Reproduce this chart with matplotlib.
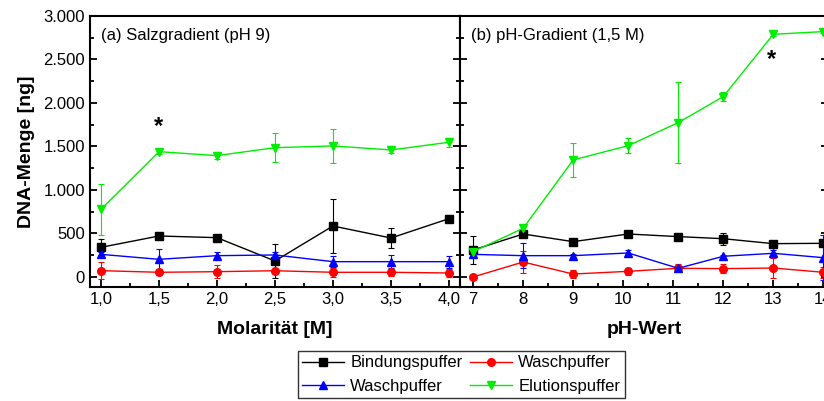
"""DNA-Menge in Bindungs-, Wasch- und Elutionspuffer für Salz- und pH-Gradient."""

import matplotlib.pyplot as plt
from matplotlib.lines import Line2D
from matplotlib.ticker import FuncFormatter, MultipleLocator

plt.rcParams["font.family"] = ["Liberation Sans", "DejaVu Sans"]

# (a) Salzgradient, pH 9
molar = [1.0, 1.5, 2.0, 2.5, 3.0, 3.5, 4.0]
salt_bind = [341, 471, 452, 184, 586, 448, 670]
salt_bind_err = [92, 20, 30, 192, 310, 112, 40]
salt_wash1 = [73, 54, 61, 72, 54, 54, 46]
salt_wash1_err = [100, 30, 73, 20, 50, 40, 50]
salt_wash2 = [260, 203, 245, 253, 176, 176, 176]
salt_wash2_err = [30, 115, 40, 30, 60, 77, 70]
salt_elu = [778, 1440, 1395, 1486, 1506, 1460, 1548]
salt_elu_err = [295, 30, 40, 167, 200, 40, 50]

# (b) pH-Gradient, 1,5 M
ph = [7, 8, 9, 10.1, 11.1, 12, 13, 14]
ph_bind = [310, 494, 406, 494, 464, 440, 383, 387]
ph_bind_err = [160, 30, 35, 15, 15, 70, 15, 30]
ph_wash1 = [0, 172, 34, 65, 100, 96, 103, 54]
ph_wash1_err = [15, 130, 50, 40, 45, 50, 110, 60]
ph_wash2 = [260, 245, 245, 276, 100, 238, 272, 222]
ph_wash2_err = [30, 140, 20, 30, 30, 20, 40, 260]
ph_elu = [291, 559, 1345, 1509, 1774, 2073, 2789, 2820]
ph_elu_err = [30, 40, 200, 85, 465, 55, 25, 20]

series_names = ["Bindungspuffer", "Waschpuffer", "Waschpuffer", "Elutionspuffer"]
colors = ["black", "#ff0000", "#0000ff", "#00ee00"]
markers = ["s", "o", "^", "v"]

stars = [(1.5, 1728), (12.96, 2494)]


def de_number(fmt):
    return FuncFormatter(lambda v, _: fmt.format(v).replace(",", "X").replace(".", ",").replace("X", "."))


def draw_panel(ax, x, series):
    for (y, err), color, marker in zip(series, colors, markers):
        ax.errorbar(x, y, yerr=err, color=color, marker=marker, markersize=5.5,
                    linewidth=1, elinewidth=0.8, capsize=2.5, capthick=0.8)
    ax.set_ylim(-115, 3000)
    ax.yaxis.set_major_locator(MultipleLocator(500))
    ax.yaxis.set_minor_locator(MultipleLocator(250))
    ax.tick_params(which="both", direction="in", left=True, right=True,
                   top=False, labelsize=12, width=1.3)
    ax.tick_params(which="major", length=5)
    ax.tick_params(which="minor", length=3)
    for side in ax.spines.values():
        side.set_linewidth(1.5)


fig = plt.figure(figsize=(8.24, 4.01), dpi=100)
ax_a = fig.add_axes([0.1092, 0.2843, 0.449, 0.676])
ax_b = fig.add_axes([0.5583, 0.2843, 0.447, 0.676])

draw_panel(ax_a, molar, [(salt_bind, salt_bind_err), (salt_wash1, salt_wash1_err),
                         (salt_wash2, salt_wash2_err), (salt_elu, salt_elu_err)])
draw_panel(ax_b, ph, [(ph_bind, ph_bind_err), (ph_wash1, ph_wash1_err),
                      (ph_wash2, ph_wash2_err), (ph_elu, ph_elu_err)])

ax_a.set_xlim(0.905, 4.095)
ax_a.xaxis.set_major_locator(MultipleLocator(0.5))
ax_a.xaxis.set_minor_locator(MultipleLocator(0.25))
ax_a.xaxis.set_major_formatter(de_number("{:.1f}"))
ax_a.yaxis.set_major_formatter(de_number("{:,.0f}"))
ax_a.set_xlabel("Molarität [M]", fontsize=14, fontweight="bold", labelpad=10)
ax_a.set_ylabel("DNA-Menge [ng]", fontsize=14, fontweight="bold", labelpad=6)
ax_a.text(0.03, 0.955, "(a) Salzgradient (pH 9)", transform=ax_a.transAxes,
          fontsize=12, va="top", ha="left")

ax_b.set_xlim(6.74, 14.1)
ax_b.xaxis.set_major_locator(MultipleLocator(1))
ax_b.xaxis.set_minor_locator(MultipleLocator(0.5))
ax_b.tick_params(labelleft=False)
ax_b.set_xlabel("pH-Wert", fontsize=14, fontweight="bold", labelpad=10)
ax_b.text(0.03, 0.955, "(b) pH-Gradient (1,5 M)", transform=ax_b.transAxes,
          fontsize=12, va="top", ha="left")

ax_a.text(stars[0][0], stars[0][1], "*", fontsize=17, fontweight="bold",
          ha="center", va="center")
ax_b.text(stars[1][0], stars[1][1], "*", fontsize=17, fontweight="bold",
          ha="center", va="center")

handles = [Line2D([], [], color=c, marker=m, markersize=5.5, linewidth=1)
           for c, m in zip(colors, markers)]
order = [0, 2, 1, 3]
leg = fig.legend([handles[i] for i in order], [series_names[i] for i in order],
                 ncol=2, loc="center", bbox_to_anchor=(0.5597, 0.066),
                 fontsize=12, frameon=True, fancybox=False, handlelength=2.5,
                 handletextpad=0.4, columnspacing=0.45, borderpad=0.25,
                 borderaxespad=0, labelspacing=0.5)
leg.get_frame().set_edgecolor("black")
leg.get_frame().set_linewidth(1)

fig.savefig("out.png", dpi=100)
